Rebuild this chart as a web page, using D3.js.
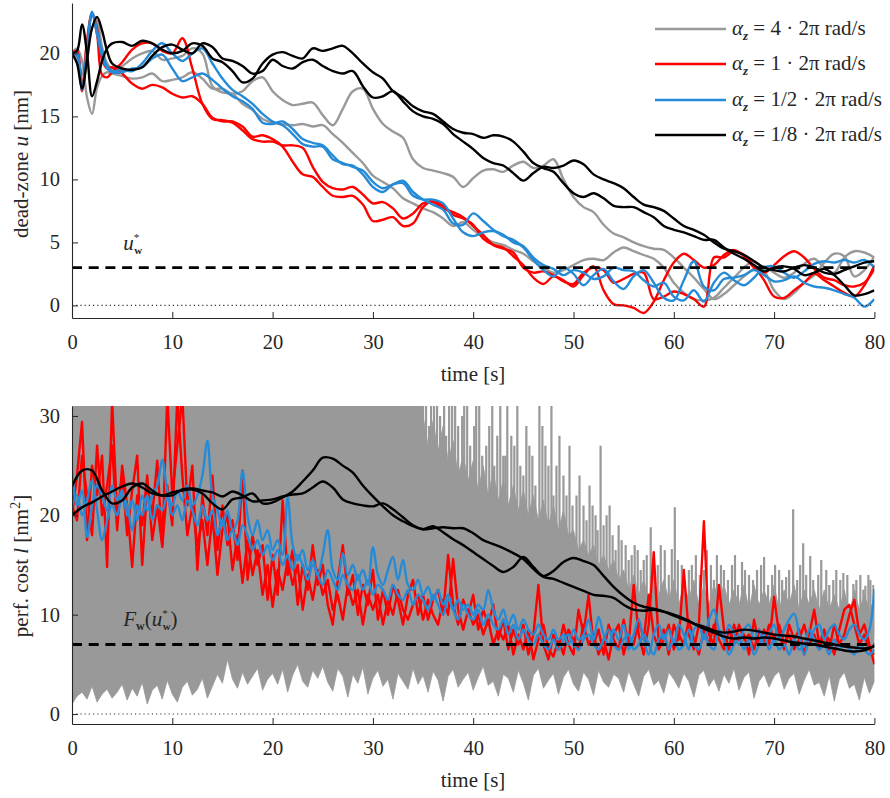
<!DOCTYPE html>
<html><head><meta charset="utf-8">
<script src="https://cdn.jsdelivr.net/npm/d3@7"></script>
<style>
body{margin:0;background:#fff}
text{font-family:"Liberation Serif","Times New Roman",serif;fill:#262626}
</style>
</head><body>
<svg id="c" width="890" height="798"></svg>
<script>
// ---------- DATA ----------
const legendNums = ["4","1","1/2","1/8"];
const xTicks = [0,10,20,30,40,50,60,70,80];
const yTicksTop = [0,5,10,15,20];
const yTicksBot = [0,10,20,30];
const uStar = 3;      // dashed level top
const fStar = 7;      // dashed level bottom

// top panel time grid: 0..3.5 by 0.5, then 4..80 by 1
const tTop = d3.range(0,4,0.5).concat(d3.range(4,81,1));

const g1Top = [20,20.4,19.4,16.5,15.2,17.3,18.2,18.5,
 18.4,18.2,18.0,18.1,18.4,17.8,17.9,18.1,18.5,18.0,
 17.2,17.2,16.8,17.0,17.8,18.1,17.0,16.3,15.9,16.0,
 16.1,15.1,14.3,15.6,17.0,17.2,15.6,14.4,13.8,13.3,
 11.6,10.9,10.7,10.5,10.2,9.4,10.1,10.7,10.8,10.6,
 11.1,11.4,10.9,11.1,11.6,10.0,8.6,7.8,7.4,6.4,
 5.7,5.4,5.0,4.7,4.5,4.4,3.8,3.0,2.2,1.3,
 0.5,0.9,1.6,2.3,2.9,3.1,2.6,2.2,2.6,3.3,
 3.7,3.0,2.6,3.8,4.3,4.2,3.8];
const g2Top = [20,19.5,18.3,21.0,23.0,22.6,20.5,19.2,
 18.8,19.0,19.6,20.0,20.2,19.5,19.6,19.8,20.4,20.0,
 17.4,16.9,16.8,16.0,15.5,14.8,14.5,14.4,14.3,14.4,
 14.2,14.3,13.6,12.9,12.1,11.3,10.3,9.8,9.3,8.5,
 8.1,7.7,7.4,6.9,6.3,6.6,6.0,5.4,5.0,4.8,
 4.4,4.1,3.5,3.0,2.6,2.8,3.2,3.6,3.7,3.6,
 4.2,4.6,4.3,4.0,3.7,3.0,1.8,1.0,0.5,0.4,
 0.6,1.4,2.2,3.0,3.5,2.8,1.2,0.5,1.0,1.8,
 2.4,3.4,4.1,3.9,2.3,2.8,3.9];
const r1Top = [20,20.2,17.4,20.5,23.1,21.5,18.3,18.1,
 18.5,19.3,20.3,20.8,20.8,20.2,20.0,21.2,18.8,16.0,
 14.8,14.7,14.5,13.9,13.2,13.0,13.0,12.7,12.7,12.5,
 11.0,9.8,9.3,9.2,9.4,8.8,8.1,8.2,7.7,6.9,
 7.3,8.1,8.2,7.7,7.4,7.0,6.3,5.6,4.8,4.5,
 4.2,3.0,2.6,2.7,2.4,1.9,1.7,2.6,3.0,2.8,
 1.8,2.1,2.5,2.6,0.5,0.7,1.1,0.9,0.5,-0.1,
 3.8,3.8,4.3,4.0,3.1,2.0,0.7,0.6,1.2,1.8,
 2.5,2.0,1.5,1.0,0.7,1.6,3.2];
const r2Top = [20,20.0,17.0,21.0,23.2,22.0,19.5,18.8,
 18.9,18.4,17.6,17.2,17.5,17.3,16.8,16.5,16.6,16.0,
 14.9,14.6,14.6,14.2,13.4,13.5,13.2,12.6,11.4,10.4,
 10.2,9.4,8.7,8.6,8.7,8.0,6.7,6.8,7.0,6.3,
 6.5,7.8,8.3,7.9,7.2,6.9,6.4,5.3,4.8,4.6,
 3.9,3.2,2.2,1.7,2.3,2.0,1.5,2.4,3.1,1.2,
 0.1,0.0,-0.2,-0.6,0.3,2.0,3.4,4.1,3.6,3.0,
 3.2,4.0,4.4,3.9,3.0,2.6,3.2,3.9,4.3,3.8,
 2.9,2.2,2.0,1.6,1.5,1.8,2.9];
const b1Top = [20,20.0,17.3,20.0,23.3,21.8,20.2,19.0,
 18.6,18.7,18.6,19.2,20.2,20.8,20.0,19.4,20.0,20.4,
 19.2,18.0,17.1,16.6,16.0,15.2,14.6,14.3,13.6,12.8,
 12.6,12.6,11.6,11.3,11.0,10.7,9.8,9.3,9.6,9.9,
 9.0,8.4,8.0,7.6,6.5,6.4,7.3,6.7,6.0,5.5,
 5.2,4.6,3.6,2.8,2.3,3.0,2.5,1.6,2.4,2.9,
 1.9,1.3,2.3,2.8,1.8,0.6,0.4,2.0,3.5,1.5,
 1.2,2.1,2.2,2.4,2.8,2.4,1.9,2.0,2.3,1.8,
 1.5,1.4,1.2,0.9,0.6,-0.1,0.5];
const b2Top = [20,19.8,17.1,20.5,23.2,21.5,19.8,18.8,
 18.5,18.5,18.8,18.9,19.6,19.9,18.8,17.8,18.1,18.4,
 17.9,17.2,16.6,16.2,15.6,14.5,14.4,14.6,14.0,13.2,
 12.9,12.7,11.9,11.2,11.1,10.4,9.4,9.0,9.6,9.7,
 8.7,8.4,8.4,8.1,6.9,5.8,5.5,5.8,5.9,5.6,
 5.0,4.7,3.8,3.2,2.9,2.4,2.8,2.6,2.1,2.3,
 3.0,2.8,2.7,2.0,1.5,1.8,0.7,0.4,1.2,0.3,
 1.8,2.6,2.0,1.6,2.2,3.0,3.1,2.6,2.2,2.7,
 3.3,3.5,3.4,3.6,3.4,3.6,3.0];
const k1Top = [20,20.2,22.3,20.0,16.6,17.8,19.4,20.4,
 20.8,20.9,20.6,21.0,20.8,20.3,20.0,20.2,20.8,20.6,
 19.6,19.3,18.6,17.7,18.0,19.2,19.9,20.1,19.8,19.6,
 20.4,20.2,20.4,20.6,20.0,19.2,18.5,18.0,17.0,16.5,
 15.8,15.4,15.2,14.6,14.0,13.7,13.6,13.3,13.5,13.4,
 13.0,12.2,11.3,10.9,10.6,9.7,8.9,8.6,8.9,8.5,
 7.9,7.8,7.8,7.4,7.0,6.3,6.0,5.8,5.5,5.2,
 5.2,4.6,4.1,3.7,3.2,2.7,3.0,3.1,2.9,2.4,
 2.6,2.9,2.4,1.6,0.8,0.9,1.2];
const k2Top = [20,19.2,17.2,19.5,22.0,22.9,21.8,20.2,
 19.2,18.8,18.7,18.9,19.8,20.5,20.7,20.3,20.0,20.8,
 20.5,19.6,19.4,19.0,18.4,18.6,19.5,19.0,18.8,19.3,
 19.5,19.0,18.6,18.4,18.6,17.4,16.5,16.6,17.0,16.2,
 15.4,15.0,14.8,14.4,13.6,13.0,12.4,11.7,11.3,11.1,
 10.5,9.9,10.5,11.0,10.9,11.1,11.5,11.2,10.4,10.0,
 9.7,9.3,8.6,8.0,7.8,7.5,6.9,6.3,6.0,5.6,
 5.0,4.5,4.3,4.0,3.5,3.0,2.8,2.7,3.0,3.2,
 3.0,2.6,2.5,2.8,3.1,3.4,3.5];

// bottom panel time grid: 0..80 by 0.5 (noisy), 0..80 by 1 (smooth black)
const tBot = d3.range(0,80.001,0.5);
const tBotK = d3.range(0,81,1);

// gray (alpha = 4): envelope of the fast oscillation (hi / lo) plus isolated peaks
const grayHi = [
 34,34,34,34,34,34,34,34,34,34,
 34,34,34,34,34,34,34,34,34,34,
 34,34,34,34,34,34,34,34,34,34,
 34,34,34,34,34,34,34,34,34,34,
 34,34,34,34,34,34,34,34,34,34,
 34,34,34,34,34,34,34,34,34,34,
 34,34,34,34,34,34,34,34,34,34,
 30,27,29.5,26.5,29,25.5,27.5,24,26,23.5,
 25.5,22.5,25,22,24.5,21.5,23.5,21,23,20.5,
 22.5,20,22,19.5,21.5,19,21,18.5,20.5,18,
 18.5,16.5,17.5,16,17,15,16,14.5,15.5,13.5,
 14.5,12.5,14,12,13.5,11.5,13.5,12,13.5,11.5,
 13.5,11,13,11.5,13.5,11,13,11,13,11.5,
 13,11,12.5,11,13,10.5,13,11,12.5,11,
 13,10.5,12.5,11,13,10.5,12.5,11,12.5,10.5,
 12.5,10.5,12,10.5,12.5,10,12.5,10.5,12,10.5,
 11.5];
const grayLo = [
 1.0,1.8,2.2,1.5,2.8,1.2,2.0,2.5,1.6,
 2.2,3.0,1.4,2.6,1.8,3.2,1.0,2.4,2.9,1.5,3.4,2.0,
 1.2,2.7,3.3,1.9,2.5,3.6,1.6,2.8,4.0,3.1,
 5.5,3.5,2.6,4.2,3.0,3.8,4.6,2.4,3.5,4.1,
 3.0,4.5,2.2,3.9,5.0,3.3,2.7,4.4,3.6,4.8,
 3.2,2.3,4.6,3.8,1.7,4.0,3.1,4.7,2.0,3.6,
 4.4,2.8,3.5,1.5,4.1,3.3,2.5,4.6,3.0,3.9,
 2.2,4.3,3.4,1.3,3.8,4.5,2.7,3.5,4.2,2.4,
 3.7,4.8,2.9,3.3,1.8,4.0,3.6,2.2,4.4,3.1,
 1.4,3.9,4.6,2.6,3.4,4.1,2.0,3.7,4.5,3.0,
 2.3,4.2,3.5,1.9,4.4,3.2,2.7,4.0,3.6,2.2,
 4.3,3.0,1.8,3.8,4.5,2.9,3.4,2.1,4.2,3.5,
 2.6,4.1,3.3,1.7,3.9,4.4,2.8,3.6,2.3,4.0,
 3.1,4.6,2.4,3.7,4.2,1.6,3.3,4.0,2.7,3.8,
 4.3,2.5,3.6,4.1,2.0,3.4,4.5,2.9,3.2,1.8,
 3.9,1.3,3.5,4.2,2.6,3.0,1.4,3.7,2.1,3.3];
const grayPeakT = [35.3,35.8,36.4,37.1,37.6,38.2,38.9,39.4,40.1,40.6,41.3,41.9,42.4,43.0,43.4,
 44.1,44.7,45.3,45.9,46.6,47.2,47.8,48.3,49.0,49.6,50.3,51.0,51.6,52.2,52.7,53.3,53.9,54.5,
 55.2,55.8,56.4,57.0,57.7,58.4,59.1,60.1,60.8,61.5,62.2,63.0,63.7,64.3,65.0,65.8,66.8,67.5,
 68.3,69.0,69.8,70.5,71.2,71.9,72.9,73.6,74.4,75.2,75.9,76.9,77.9,78.6,79.1,79.6,
 35.0,35.6,36.1,36.7,37.3,37.9,38.5,39.1,39.7,40.3,40.9,41.6,42.1,42.7,43.2,43.8,44.4,45.0,
 45.6,46.2,46.9,47.5,48.0,48.6,49.3,49.9,50.6,51.3,51.9,52.4,53.0,53.6,54.2,54.8,55.5,56.1,
 56.7,57.3,58.0,58.7,59.5,59.8,60.4,61.1,61.8,62.6,63.3,64.0,64.7,65.4,66.1,66.4,67.1,67.9,
 68.7,69.4,70.1,70.8,71.5,72.3,72.6,73.2,73.9,74.7,75.5,76.2,76.6,77.3,78.2,78.9,79.4,79.9];
const grayPeakV = [34,34,33,34,31,34,30,34,29,31,27,34,28,26,34,
 27,25,29,26,34,27,34,25,24,27,22,21,23,20,27,20,18,19,
 17,16,16.5,15.5,18.8,15,16.5,20.8,15,14.5,16,14.5,15,16,14.5,15,15.3,14,
 14.5,15.8,14,14.5,13.8,20.6,17.2,15.9,14,14.5,13.5,14.2,13.1,14,12.9,13.5,
 32,29,34,30,28,33,29,34,27,34,26,29,25,31,26,28,34,24,
 27,23,29,25,22,28,22,21,24,19.5,21,18.5,19,21,16.5,17.5,15.5,17,
 14.5,16,14.5,17,14,16.6,15.5,13.5,15,14,16.5,13.5,15,13.5,16,13,14.5,13.5,
 15,13,15,13.5,14.5,13.5,15,14,13.5,15.5,13,14.5,13.5,14,13.5,12.5,14,13];

// red (alpha = 1), two runs
const redA = [
 20.0,24,29.4,17.5,25,22,26,14.8,31.5,20,
 24,18,22.5,26,15,23,20,25.5,17,32,
 22,27,32,21,25,14.5,22,18,24,16.5,
 21,17,19.5,15.5,24.5,13.5,18,15,17,11.5,
 16,12,21.5,14,16.5,11,15,12.5,17,13,
 15,11,9,13.5,17,12,14,10,13,11,
 14.5,9.5,12.5,10,13,11.5,9,12,13.5,10,
 12,9.5,11.5,12.5,10,16,11,9,11.5,10,
 12,8.5,10.5,9,11,7.5,9.5,6.5,8.5,7,
 9,6,8,13,7,5.5,8,6.5,9,7,
 6,10.5,8,12,7,8.5,6,9,7.5,6.5,
 9.5,7,13,8,6,9,16.3,7,8.5,6,
 9,7.5,14.5,8,6.5,9,19.4,8,7,13,
 8.5,6.5,9,7.5,8,6,9.5,7,8.5,7,
 11.8,8,6.5,9,7.5,8.5,6,8,10.5,7,
 8.5,6.5,9,7,8,10,11.5,8,9,7,
 5];
const redB = [
 21,19.5,26,22,18,27,20,23,27,18.5,
 25,21,14.8,22,19,24,17.5,21,16.8,23,
 19,32,24,18,21,17,19.5,15,20,14,
 18.5,20,14.5,18,13.2,17.5,14,16.5,12,15,
 10.8,14.5,12.5,15.5,13,15,10.5,14,11.5,14.5,
 12,13.5,10.5,12,9.5,13,11,12.5,9,12,
 10.5,12,9,11.5,10,12.5,10.5,9.5,11,12,
 9.5,11.5,10,9,11.5,10,15.6,10.5,8.5,10.5,
 9,10,8,9.5,7,8.5,7.5,9,6,8,
 6.5,8.5,5.5,7.5,9,6.5,5.8,7.5,6,8.5,
 7.5,6.5,9,7,8,6,7.5,5.5,8,9,
 6,8,7,9.5,7.5,12,8,6.5,7.5,9,
 6.5,8,7,9.5,7.5,6,8.5,7,9,7.5,
 6.5,8.5,7,9,7.5,8,6.5,8.5,7,9,
 7.5,9,7,8,6.5,7.5,9,7,8,6.5,
 8,7.5,6,8.5,10.5,11,9,7,8,6.5,
 6];
// blue (alpha = 1/2), two runs
const blueA = [
 24.5,21,22.5,17.8,21,23,22,20.5,23,21.5,
 22.5,20,21.5,19.5,22,20.5,22,23,25.6,22.5,
 21,22.5,21.5,23,21,22,24,27.5,22,20.5,
 19,20.5,18.5,19.5,24.5,20,18,19.5,17.5,18.5,
 16.5,17.5,16,21.8,17,15.5,16.5,14.5,15.5,14,
 16,18.5,14.5,13.5,16.2,14,15,13.5,14.5,13,
 16.8,14,13,14.5,15.8,13.5,15.5,13,12.5,13.5,
 12,12.8,11.5,12.5,11,12,10.5,11.5,10.5,11,
 10,11,10.5,12.5,10.5,9.5,10.5,9,10,8.5,
 9.5,8.5,8,9,8,7.5,8.5,7.5,8,7,
 8.5,7.5,8,9.5,7.5,9.8,8,7,8.5,7.5,
 9,6.5,8,9.5,7.5,6,8,9,7.5,8.5,
 7,9,8,6.5,8.5,9,7.5,9.5,10.5,8.5,
 7.5,9,8,7,8.5,9,7.5,8.5,7,8,
 9,7.5,8.5,9.5,10.1,8,6,7.5,8.5,9,
 7.5,8.5,9,8,7.5,8.5,9,8,7.5,8.5,
 12.6];
const blueB = [
 21,22,20,21.5,23.5,20.5,17.5,19.5,21,20,
 22,21,18.5,21,20,22,19.5,21,20.5,22,
 20,21,19.5,21.5,20.5,19,21,19.5,20.5,18,
 19.5,17.5,18.5,17,19,18,16.5,17.5,16,17,
 15.5,16.5,15,16,14.5,16,15,13.5,15,14,
 13,14.5,13.5,12.5,14,13,12.5,14,12.5,13.5,
 12,13,12.5,11.5,13,12,11.5,12.5,11,12,
 11.5,10.5,12,11,10,11.5,10.5,9.5,11,10,
 9.5,10.5,9,10,9,8.5,9.5,8,9,7.5,
 8.5,7.5,7,8,7,6.5,7.5,6.5,7.5,8,
 7,6.5,7.5,8,7,6.5,7.5,8.5,7,6.5,
 7.5,8,6.5,7,8,7,6,7.5,8,6.5,
 7.5,6.5,7,8.5,7,6.5,8,7,6.5,8.5,
 7.5,6,7,8,6.5,7.5,6,7,8,6.5,
 7.5,6.5,7,6,7.5,6.5,7,8.5,7.5,6.5,
 7,6,7.5,6.5,7,6.5,6,7,6.5,6,
 6.5];
// black (alpha = 1/8), two runs, 1 s grid
const blackA = [22.9,24.5,24.5,22.5,21.2,21.5,22.8,23.2,22.5,22.0,
 22.3,22.5,22.6,22.2,21.2,20.6,21.6,21.8,22.2,21.2,
 21.3,21.8,22.4,23.4,24.5,25.8,25.7,25.0,24.3,23.0,
 21.9,20.9,20.0,19.4,18.9,18.6,18.9,18.3,17.6,17.0,
 16.3,15.6,14.9,14.3,14.8,15.8,14.8,13.9,14.4,15.3,
 15.7,15.4,15.0,13.9,12.8,11.9,11.2,10.8,10.6,10.3,
 9.9,9.5,9.1,8.8,8.4,8.2,8.3,8.5,8.4,8.2,
 8.0,7.9,7.8,7.6,7.4,7.2,7.0,6.8,6.7,6.6,
 6.8];
const blackB = [20.0,20.8,21.3,21.9,22.4,22.9,23.2,22.8,22.2,22.0,
 22.0,22.6,22.7,22.5,22.3,21.9,22.4,22.0,21.4,21.5,
 21.6,21.9,22.1,22.2,22.8,23.4,22.8,21.6,21.2,21.0,
 20.9,21.2,20.6,19.8,19.0,18.6,18.7,18.8,18.7,18.7,
 18.2,17.5,17.1,16.7,16.2,15.6,14.6,13.8,13.6,13.2,
 12.8,12.4,12.0,11.9,11.7,11.0,10.5,10.4,10.5,10.3,
 10.0,9.6,9.1,8.6,8.2,7.8,7.6,7.7,7.6,7.7,
 7.6,7.4,7.2,7.1,7.0,6.8,6.6,6.4,6.3,6.4,
 6.9];

// ---------- DRAW ----------
const COL = {gray:"#999999", red:"#ff0000", blue:"#268bd6", black:"#000000", axis:"#262626"};
const svg = d3.select("#c");
const x = d3.scaleLinear().domain([0,80]).range([72,874.4]);
const yT = d3.scaleLinear().domain([-1,24]).range([318,3]);
const yB = d3.scaleLinear().domain([-1,31]).range([724,406]);
const FS_TICK = 20.5, FS_LAB = 21;

const defs = svg.append("defs");
defs.append("clipPath").attr("id","clipT").append("rect")
  .attr("x",x(0)).attr("y",yT(24)).attr("width",x(80)-x(0)).attr("height",yT(-1)-yT(24));
defs.append("clipPath").attr("id","clipB").append("rect")
  .attr("x",x(0)).attr("y",yB(31)).attr("width",x(80)-x(0)).attr("height",yB(-1)-yB(31));

// ---- top panel ----
const gT = svg.append("g").attr("clip-path","url(#clipT)");
const lineTop = d3.line().x((d,i)=>x(tTop[i])).y(d=>yT(d)).curve(d3.curveCatmullRom.alpha(0.5));
const topSeries = [
  [g1Top,COL.gray],[g2Top,COL.gray],
  [r1Top,COL.red],[r2Top,COL.red],
  [b1Top,COL.blue],[b2Top,COL.blue],
  [k1Top,COL.black],[k2Top,COL.black]];
topSeries.forEach(([v,c])=>{
  gT.append("path").attr("d",lineTop(v)).attr("fill","none").attr("stroke",c)
    .attr("stroke-width",2.4).attr("stroke-linejoin","round");
});
gT.append("line").attr("x1",x(0)).attr("x2",x(80)).attr("y1",yT(0)).attr("y2",yT(0))
  .attr("stroke","#333").attr("stroke-width",1.1).attr("stroke-dasharray","1.2,3");
gT.append("line").attr("x1",x(0)).attr("x2",x(80)).attr("y1",yT(uStar)).attr("y2",yT(uStar))
  .attr("stroke","#000").attr("stroke-width",2.8).attr("stroke-dasharray","10,6.7");

// ---- bottom panel ----
const gB = svg.append("g").attr("clip-path","url(#clipB)");
const areaGray = d3.area().x((d,i)=>x(tBot[i])).y0((d,i)=>yB(grayLo[i])).y1(d=>yB(d));
gB.append("path").attr("d",areaGray(grayHi)).attr("fill",COL.gray).attr("stroke",COL.gray).attr("stroke-width",0.8);
grayPeakT.forEach((t,i)=>{
  gB.append("line").attr("x1",x(t)).attr("x2",x(t)).attr("y1",yB(8)).attr("y2",yB(grayPeakV[i]))
    .attr("stroke",COL.gray).attr("stroke-width",2.2);
});
const lineBot = d3.line().x((d,i)=>x(tBot[i])).y(d=>yB(d));
const lineBotS = d3.line().x((d,i)=>x(tBot[i])).y(d=>yB(d)).curve(d3.curveCatmullRom.alpha(0.5));
[[redA,COL.red,lineBot],[redB,COL.red,lineBot],[blueA,COL.blue,lineBotS],[blueB,COL.blue,lineBotS]].forEach(([v,c,ln])=>{
  gB.append("path").attr("d",ln(v)).attr("fill","none").attr("stroke",c)
    .attr("stroke-width",2.4).attr("stroke-linejoin","round");
});
const lineBotK = d3.line().x((d,i)=>x(tBotK[i])).y(d=>yB(d)).curve(d3.curveCatmullRom.alpha(0.5));
[blackA,blackB].forEach(v=>{
  gB.append("path").attr("d",lineBotK(v)).attr("fill","none").attr("stroke",COL.black).attr("stroke-width",2.4);
});
gB.append("line").attr("x1",x(0)).attr("x2",x(80)).attr("y1",yB(0)).attr("y2",yB(0))
  .attr("stroke","#333").attr("stroke-width",1.1).attr("stroke-dasharray","1.2,3");
gB.append("line").attr("x1",x(0)).attr("x2",x(80)).attr("y1",yB(fStar)).attr("y2",yB(fStar))
  .attr("stroke","#000").attr("stroke-width",2.8).attr("stroke-dasharray","10,6.7");

// ---- axes ----
function styleAxis(g){
  g.select(".domain").attr("stroke",COL.axis).attr("stroke-width",1.1);
  g.selectAll(".tick line").attr("stroke",COL.axis).attr("stroke-width",1);
  g.selectAll(".tick text").attr("font-size",FS_TICK).attr("fill",COL.axis)
    .style("font-family",'"Liberation Serif",serif');
}
svg.append("g").attr("transform",`translate(0,${yT(-1)})`)
  .call(d3.axisBottom(x).tickValues(xTicks).tickSizeInner(-6).tickSizeOuter(0).tickPadding(16)).call(styleAxis);
svg.append("g").attr("transform",`translate(${x(0)},0)`)
  .call(d3.axisLeft(yT).tickValues(yTicksTop).tickSizeInner(-6).tickSizeOuter(0).tickPadding(12)).call(styleAxis);
svg.append("g").attr("transform",`translate(0,${yB(-1)})`)
  .call(d3.axisBottom(x).tickValues(xTicks).tickSizeInner(-6).tickSizeOuter(0).tickPadding(16.5)).call(styleAxis);
svg.append("g").attr("transform",`translate(${x(0)},0)`)
  .call(d3.axisLeft(yB).tickValues(yTicksBot).tickSizeInner(-6).tickSizeOuter(0).tickPadding(12)).call(styleAxis);

// axis titles
svg.append("text").attr("x",473).attr("y",381).attr("text-anchor","middle").attr("font-size",FS_LAB).text("time [s]");
svg.append("text").attr("x",473).attr("y",787).attr("text-anchor","middle").attr("font-size",FS_LAB).text("time [s]");
const yl1 = svg.append("text").attr("transform","translate(28,164) rotate(-90)").attr("text-anchor","middle").attr("font-size",FS_LAB);
yl1.append("tspan").text("dead-zone ");
yl1.append("tspan").attr("font-style","italic").text("u");
yl1.append("tspan").text(" [nm]");
const yl2 = svg.append("text").attr("transform","translate(28,566) rotate(-90)").attr("text-anchor","middle").attr("font-size",FS_LAB);
yl2.append("tspan").text("perf. cost ");
yl2.append("tspan").attr("font-style","italic").text("l");
yl2.append("tspan").text(" [nm");
yl2.append("tspan").attr("font-size",14).attr("dy",-8).text("2");
yl2.append("tspan").attr("dy",8).text("]");

// annotations
const a1 = svg.append("text").attr("x",x(5.1)).attr("y",yT(4.4)).attr("font-size",FS_LAB).attr("fill","#222");
a1.append("tspan").attr("font-style","italic").text("u");
a1.append("tspan").attr("font-size",11).attr("dy",-9).text("*");
a1.append("tspan").attr("font-size",11).attr("font-weight","bold").attr("dx",-5).attr("dy",13).text("w");
const a2 = svg.append("text").attr("x",x(5.1)).attr("y",yB(8.85)).attr("font-size",FS_LAB).attr("fill","#222");
a2.append("tspan").attr("font-style","italic").text("F");
a2.append("tspan").attr("font-size",12).attr("font-weight","bold").attr("dy",4).text("w");
a2.append("tspan").attr("dy",-4).text("(");
a2.append("tspan").attr("font-style","italic").text("u");
a2.append("tspan").attr("font-size",11).attr("dy",-9).text("*");
a2.append("tspan").attr("font-size",11).attr("font-weight","bold").attr("dx",-5).attr("dy",13).text("w");
a2.append("tspan").attr("dy",-4).text(")");

// legend
const legCols = [COL.gray,COL.red,COL.blue,COL.black];
const legY = [29,64,100,135];
legCols.forEach((c,i)=>{
  svg.append("line").attr("x1",655).attr("x2",726).attr("y1",legY[i]).attr("y2",legY[i])
    .attr("stroke",c).attr("stroke-width",2.6);
  const t = svg.append("text").attr("x",732).attr("y",legY[i]+6).attr("font-size",21);
  t.append("tspan").attr("font-style","italic").text("α");
  t.append("tspan").attr("font-size",13).attr("font-style","italic").attr("font-weight","bold").attr("dy",5).text("z");
  t.append("tspan").attr("dy",-5).text(` = ${legendNums[i]} · 2π rad/s`);
});
</script>
</body></html>
